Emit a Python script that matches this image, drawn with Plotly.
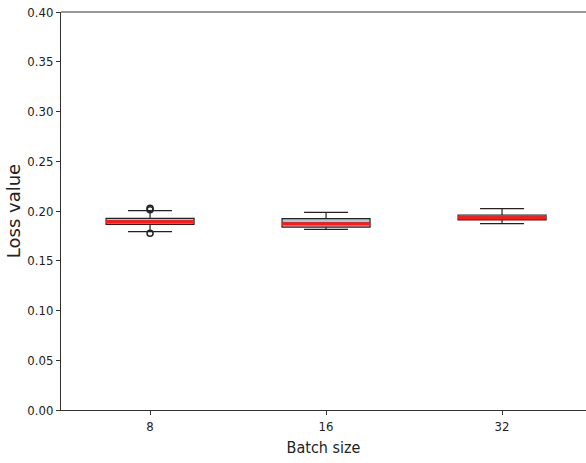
import plotly.graph_objects as go

categories = ["8", "16", "32"]
positions = [1, 2, 3]
q1 = [0.1866, 0.1838, 0.1910]
median = [0.1893, 0.1873, 0.1937]
q3 = [0.1926, 0.1923, 0.1960]
lowerfence = [0.1792, 0.1816, 0.1873]
upperfence = [0.2003, 0.1987, 0.2024]
outlier_x = [1, 1, 1]
outlier_y = [0.2027, 0.2012, 0.1777]
y_ticks = [0.00, 0.05, 0.10, 0.15, 0.20, 0.25, 0.30, 0.35, 0.40]

box_width = 0.5

fig = go.Figure()
fig.add_trace(go.Box(
    x=positions, q1=q1, median=median, q3=q3,
    lowerfence=lowerfence, upperfence=upperfence,
    width=box_width, whiskerwidth=0.5,
    fillcolor="#a9cadb", line=dict(color="#222222", width=1.2),
    boxpoints=False, showlegend=False, hoverinfo="skip",
))

mx, my = [], []
for p, m in zip(positions, median):
    mx += [p - box_width / 2, p + box_width / 2, None]
    my += [m, m, None]
fig.add_trace(go.Scatter(x=mx, y=my, mode="lines",
                         line=dict(color="#ff1a1a", width=3.5),
                         showlegend=False, hoverinfo="skip"))

fig.add_trace(go.Scatter(x=outlier_x, y=outlier_y, mode="markers",
                         marker=dict(symbol="circle-open", size=6,
                                     color="#222222", line=dict(width=1.5)),
                         showlegend=False, hoverinfo="skip"))

font_main = "DejaVu Sans Condensed, DejaVu Sans, sans-serif"
fig.update_layout(
    width=586, height=463,
    margin=dict(l=61, r=0, t=12, b=53, autoexpand=False),
    paper_bgcolor="white", plot_bgcolor="white",
    font=dict(family=font_main, size=13, color="#222222"),
    xaxis=dict(
        range=[0.494, 3.477], tickmode="array", tickvals=positions,
        ticktext=categories, showgrid=False, zeroline=False,
        showline=True, linecolor="#333333", linewidth=1, mirror=False,
        ticks="outside", ticklen=4, tickcolor="#333333", automargin=False,
        title=dict(text="Batch size", font=dict(size=16, family=font_main), standoff=9),
        tickfont=dict(size=13),
    ),
    yaxis=dict(
        range=[0, 0.4], tickmode="array", tickvals=y_ticks,
        ticktext=[f"{v:.2f}" for v in y_ticks], showgrid=False,
        zeroline=False, showline=True, linecolor="#333333", linewidth=1,
        ticks="outside", ticklen=4, tickcolor="#333333", automargin=False,
        ticklabeloverflow="allow",
        title=dict(text="Loss value", font=dict(size=18, family="DejaVu Sans"), standoff=2),
        tickfont=dict(size=13),
    ),
    shapes=[dict(type="line", xref="paper", yref="paper", x0=0, x1=1, y0=1, y1=1,
                 line=dict(color="#333333", width=1))],
)

fig.write_html(
    "out.html",
    config={"displayModeBar": False},
    post_script="document.body.style.margin='0';document.body.style.overflow='hidden';",
)
